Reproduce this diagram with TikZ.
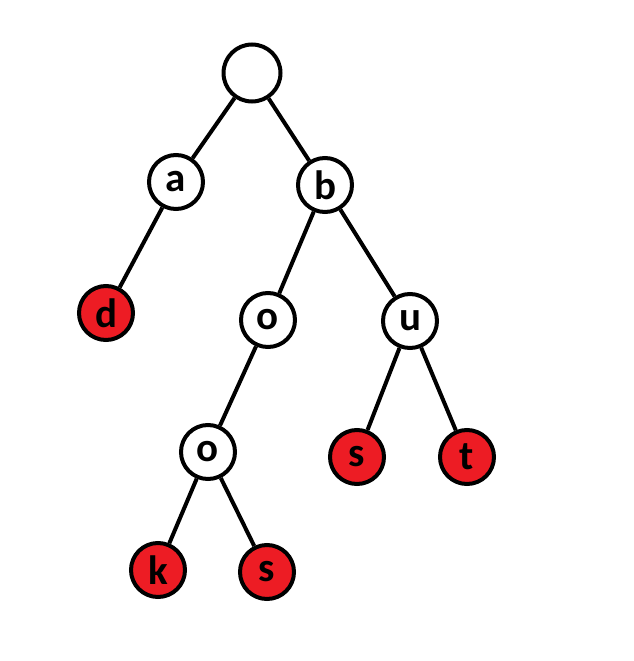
\documentclass[tikz,border=0pt]{standalone}
\usepackage{fontspec}
\setmainfont{Carlito}
\usepackage{tikz}

\definecolor{leafred}{HTML}{ED1C24}

\begin{document}
\begin{tikzpicture}[
  x=1pt, y=-1pt,
  trienode/.style={draw, circle, line width=4pt, minimum size=54pt,
                   inner sep=0pt, fill=white, font=\fontsize{41}{41}\selectfont\bfseries},
  endnode/.style={trienode, fill=leafred},
  link/.style={line width=4pt},
]
\useasboundingbox (0,0) rectangle (634,661);

\node[trienode, minimum size=57pt] (root) at (252,73) {};
\node[trienode] (a) at (176,182) {a};
\node[trienode] (b) at (325,185) {b};
\node[endnode] (ad) at (106,313) {d};
\node[trienode] (bo) at (268,320) {o};
\node[trienode] (bu) at (410,321) {u};
\node[trienode] (boo) at (208,452) {o};
\node[endnode] (bus) at (357,457) {s};
\node[endnode] (but) at (467,457) {t};
\node[endnode] (book) at (158,570) {k};
\node[endnode] (boos) at (267,572) {s};

\draw[link] (root) -- (a);
\draw[link] (root) -- (b);
\draw[link] (a) -- (ad);
\draw[link] (b) -- (bo);
\draw[link] (b) -- (bu);
\draw[link] (bo) -- (boo);
\draw[link] (bu) -- (bus);
\draw[link] (bu) -- (but);
\draw[link] (boo) -- (book);
\draw[link] (boo) -- (boos);
\end{tikzpicture}
\end{document}
